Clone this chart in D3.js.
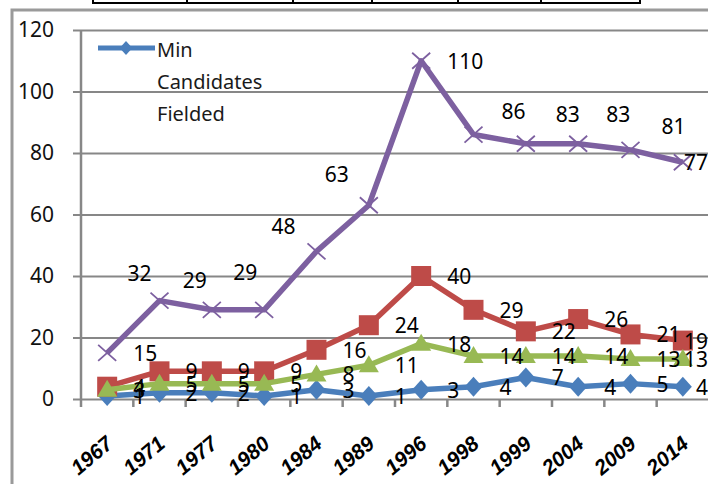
<!DOCTYPE html>
<html>
<head>
<meta charset="utf-8">
<script src="https://cdnjs.cloudflare.com/ajax/libs/d3/7.8.5/d3.min.js"></script>
<style>
	html, body { margin: 0; padding: 0; background: #fff; overflow: hidden; }
	svg { display: block; }
</style>
</head>
<body>
<script>
// values
var years = ["1967", "1971", "1977", "1980", "1984", "1989", "1996", "1998", "1999", "2004", "2009", "2014"];
var minFielded = [1, 2, 2, 1, 3, 1, 3, 4, 7, 4, 5, 4];
var redSeries = [4, 9, 9, 9, 16, 24, 40, 29, 22, 26, 21, 19];
var greenSeries = [3, 5, 5, 5, 8, 11, 18, 14, 14, 14, 13, 13];
var purpleSeries = [15, 32, 29, 29, 48, 63, 110, 86, 83, 83, 81, 77];
var yTicks = [0, 20, 40, 60, 80, 100, 120];
var legendLines = ["Min", "Candidates", "Fielded"];

// purple labels were dragged around in the original, [dx, dy] from the point
var purpleNudge = [null, [-20, -28], [-17, -30], [-19, -38], [-33, -25], [-32, -31],
	null, [40, -24], [42, -30], [40, -30], [43, -24], null];

window.onload = function() {
	w = 708;
	h = 484;
	var svg = d3.select("body").append("svg")
		.attr("width", w)
		.attr("height", h);

	var font = "'Noto Sans', 'Liberation Sans', sans-serif";

	// bit of the table above the chart
	var strip = svg.append("g").attr("stroke", "#000").attr("stroke-width", 2);
	strip.append("line").attr("x1", 93).attr("x2", 640).attr("y1", 3).attr("y2", 3);
	[93, 187, 293, 372, 458, 541, 640].forEach(function(sx) {
		strip.append("line").attr("x1", sx).attr("x2", sx).attr("y1", 0).attr("y2", 4);
	});

	// chart frame
	svg.append("rect")
		.attr("x", 12).attr("y", 10)
		.attr("width", 720).attr("height", 500)
		.attr("fill", "none")
		.attr("stroke", "#9a9a9a")
		.attr("stroke-width", 3);

	var x = d3.scaleBand().domain(years).range([81, 709]);
	var y = d3.scaleLinear().domain([0, 120]).range([399, 30]);
	var cx = function(i) { return x(years[i]) + x.bandwidth() / 2; };

	// grid + y labels
	var yAxis = svg.append("g")
		.attr("transform", "translate(73,0)")
		.call(d3.axisLeft(y).tickValues(yTicks).tickSize(-636).tickPadding(19));
	yAxis.select(".domain").remove();
	yAxis.selectAll("line").attr("stroke", "#878787").attr("stroke-width", 2);
	yAxis.selectAll("text")
		.attr("font-family", font)
		.attr("font-size", 21)
		.attr("fill", "#111");

	// y axis line
	svg.append("line")
		.attr("x1", 81).attr("x2", 81)
		.attr("y1", y(120)).attr("y2", y(0) + 8)
		.attr("stroke", "#878787").attr("stroke-width", 2.5);

	// x axis tick marks on category boundaries
	svg.append("g").selectAll("line")
		.data(years.slice(1))
		.enter().append("line")
		.attr("x1", function(d) { return x(d); })
		.attr("x2", function(d) { return x(d); })
		.attr("y1", y(0))
		.attr("y2", y(0) + 8)
		.attr("stroke", "#878787").attr("stroke-width", 2.5);

	// x labels
	var xAxis = svg.append("g")
		.attr("transform", "translate(0," + y(0) + ")")
		.call(d3.axisBottom(x).tickSize(0));
	xAxis.select(".domain").remove();
	xAxis.selectAll("text")
		.attr("font-family", "'Liberation Sans', Arial, sans-serif")
		.attr("font-size", 21)
		.attr("font-weight", "bold")
		.attr("font-style", "italic")
		.attr("fill", "#000")
		.attr("text-anchor", "end")
		.attr("dy", null)
		.attr("y", 0)
		.attr("transform", "translate(7,47) rotate(-40)");

	var series = [
		{ name: "Min Candidates Fielded", values: minFielded, color: "#4a7ebb", marker: "diamond" },
		{ name: "red", values: redSeries, color: "#be4b48", marker: "square" },
		{ name: "green", values: greenSeries, color: "#98b954", marker: "triangle" },
		{ name: "purple", values: purpleSeries, color: "#7d60a0", marker: "cross" }
	];

	var line = d3.line()
		.x(function(d, i) { return cx(i); })
		.y(function(d) { return y(d); });

	series.forEach(function(s) {
		var g = svg.append("g");
		g.append("path")
			.attr("d", line(s.values))
			.attr("fill", "none")
			.attr("stroke", s.color)
			.attr("stroke-width", 5.5)
			.attr("stroke-linejoin", "round");
		g.selectAll(".m")
			.data(s.values)
			.enter().append("path")
			.attr("transform", function(d, i) { return "translate(" + cx(i) + "," + y(d) + ")"; })
			.attr("d", marker_path(s.marker))
			.attr("fill", s.marker == "cross" ? "none" : s.color)
			.attr("stroke", s.color)
			.attr("stroke-width", s.marker == "cross" ? 1.8 : 0);
	});

	// data labels, on top of everything
	series.forEach(function(s) {
		svg.append("g").selectAll("text")
			.data(s.values)
			.enter().append("text")
			.text(function(d) { return d; })
			.attr("font-family", font)
			.attr("font-size", 21)
			.attr("fill", "#000")
			.attr("dominant-baseline", "central")
			.each(function(d, i) {
				var t = d3.select(this);
				var tw = this.getComputedTextLength();
				var nudge = s.name == "purple" ? purpleNudge[i] : null;
				if (nudge) {
					t.attr("x", cx(i) + nudge[0] - tw / 2).attr("y", y(d) + nudge[1]);
				} else {
					t.attr("x", Math.min(cx(i) + 26, w - tw)).attr("y", y(d));
				}
			});
	});

	// legend (only the first series is shown in the picture)
	var lg = svg.append("g");
	lg.append("line")
		.attr("x1", 98).attr("x2", 155).attr("y1", 48).attr("y2", 48)
		.attr("stroke", series[0].color).attr("stroke-width", 5);
	lg.append("path")
		.attr("transform", "translate(126,48) scale(0.7)")
		.attr("d", marker_path("diamond"))
		.attr("fill", series[0].color);
	lg.selectAll("text")
		.data(legendLines)
		.enter().append("text")
		.text(function(d) { return d; })
		.attr("x", 157)
		.attr("y", function(d, i) { return 57 + i * 32; })
		.attr("font-family", font)
		.attr("font-size", 20)
		.attr("fill", "#1a1a1a");
};

function marker_path(kind) {
	if (kind == "diamond") return "M0,-10 L9,0 L0,10 L-9,0 Z";
	if (kind == "square") return "M-10,-10 H10 V10 H-10 Z";
	if (kind == "triangle") return "M0,-10 L10,7 L-10,7 Z";
	return "M-9,-8 L9,8 M-9,8 L9,-8";
}
</script>
</body>
</html>
